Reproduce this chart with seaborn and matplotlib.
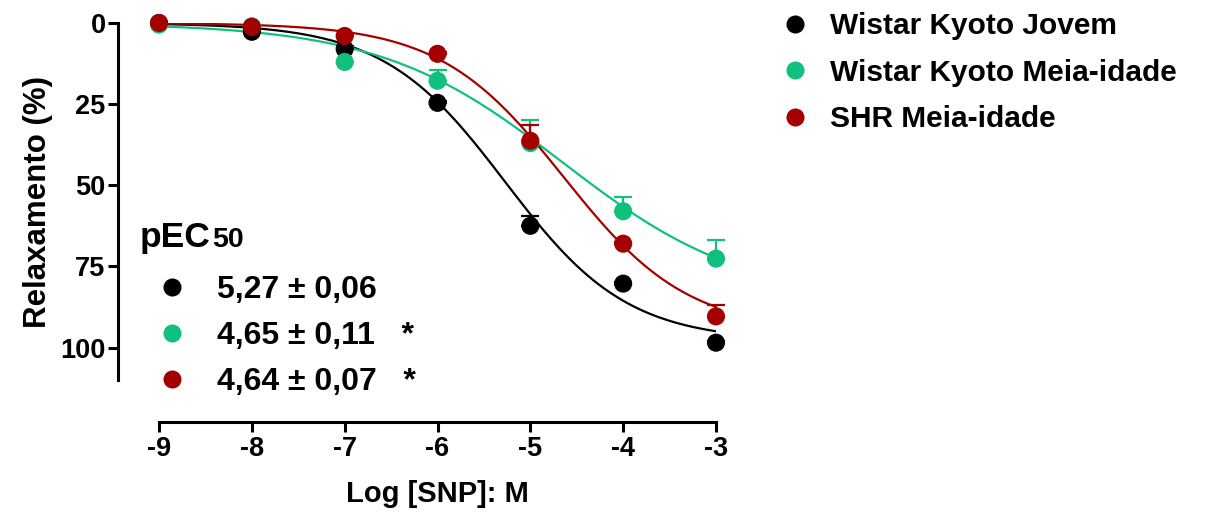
import numpy as np
import pandas as pd
import matplotlib.pyplot as plt
import seaborn as sns
from matplotlib.lines import Line2D

# concentrações (log M)
log_snp = [-9, -8, -7, -6, -5, -4, -3]

groups = ["Wistar Kyoto Jovem", "Wistar Kyoto Meia-idade", "SHR Meia-idade"]
colors = ["#000000", "#12C07E", "#A50000"]

# relaxamento médio (%)
wky_jovem = [0.0, 2.7, 8.0, 24.6, 62.5, 80.3, 98.5]
wky_meia = [0.5, 1.0, 12.0, 17.8, 37.0, 58.0, 72.6]
shr_meia = [0.0, 1.2, 4.0, 9.5, 36.3, 68.0, 90.4]

# erro padrão
sem_jovem = [0.3, 0.5, 1.0, 0.5, 3.0, 0.5, 0.5]
sem_wky_meia = [0.3, 0.5, 4.5, 3.3, 7.0, 4.3, 5.6]
sem_shr_meia = [0.3, 0.5, 0.5, 0.5, 5.0, 0.5, 3.4]

# ajuste sigmoidal: pEC50, Emax, inclinação de Hill
pec50 = [5.27, 4.65, 4.64]
pec50_sem = [0.06, 0.11, 0.07]
emax = [98.0, 86.0, 95.0]
hill = [0.66, 0.44, 0.65]
signif = ["", "*", "*"]

means = [wky_jovem, wky_meia, shr_meia]
sems = [sem_jovem, sem_wky_meia, sem_shr_meia]

sns.set_style("ticks")
plt.rcParams["font.family"] = ["Liberation Sans", "DejaVu Sans"]
plt.rcParams["font.weight"] = "bold"
for key in ["text.color", "axes.labelcolor", "xtick.color", "ytick.color", "axes.edgecolor"]:
    plt.rcParams[key] = "black"

points = pd.DataFrame({
    "x": np.tile(log_snp, 3),
    "y": np.concatenate(means),
    "group": np.repeat(groups, len(log_snp)),
})

xfit = np.linspace(log_snp[0], log_snp[-1], 200)
fits = pd.DataFrame({
    "x": np.tile(xfit, 3),
    "y": np.concatenate([e / (1 + 10 ** ((-p - xfit) * h)) for p, e, h in zip(pec50, emax, hill)]),
    "group": np.repeat(groups, len(xfit)),
})

palette = dict(zip(groups, colors))

fig = plt.figure(figsize=(12.25, 5.14), dpi=100)
ax = fig.add_axes([159 / 1225, 134 / 514, (716 - 159) / 1225, (380 - 23) / 514])

sns.lineplot(data=fits, x="x", y="y", hue="group", palette=palette, lw=1.6,
             legend=False, ax=ax)
for i in range(3):
    ax.errorbar(log_snp, means[i], yerr=[sems[i], np.zeros(len(log_snp))], fmt="none",
                ecolor=colors[i], elinewidth=1.6, capsize=6.5, capthick=1.6, clip_on=False)
sns.scatterplot(data=points, x="x", y="y", hue="group", palette=palette, s=170,
                linewidth=0, legend=False, ax=ax, clip_on=False, zorder=5)

ax.set_xlim(-9, -3)
ax.set_ylim(110, 0)
ax.set_xticks(log_snp)
ax.set_yticks([0, 25, 50, 75, 100])
ax.set_xticklabels([str(v) for v in log_snp])
sns.despine(ax=ax)
ax.spines["left"].set_position(("outward", 29.5))
ax.spines["bottom"].set_position(("outward", 30))
ax.spines["left"].set_linewidth(2.2)
ax.spines["bottom"].set_linewidth(2.2)
ax.tick_params(axis="both", width=2.2, length=7, labelsize=19.5)
ax.tick_params(axis="y", pad=2)
ax.tick_params(axis="x", pad=3)
ax.set_xlabel("Log [SNP]: M", fontsize=21, fontweight="bold", labelpad=13)
ax.set_ylabel("Relaxamento (%)", fontsize=22.5, fontweight="bold", labelpad=5)

# legenda dos grupos
handles = [Line2D([], [], ls="none", marker="o", ms=13, mfc=c, mec="none") for c in colors]
fig.legend(handles, groups, loc="upper left", bbox_to_anchor=(780 / 1225, 1 - 12 / 514),
           frameon=False, handlelength=1.0, handletextpad=0.67, labelspacing=0.62,
           borderpad=0, borderaxespad=0, prop={"weight": "bold", "size": 21.5})

# bloco pEC50: "50" logo depois de "pEC", menor e na mesma linha de base
t = fig.text(140 / 1225, 1 - 247 / 514, "pEC", fontsize=25.5, fontweight="bold", va="baseline")
bb = t.get_window_extent(renderer=fig.canvas.get_renderer())
fig.text(bb.x1 / 1225 + 1 / 1225, 1 - 247 / 514, "50", fontsize=20.5, fontweight="bold",
         va="baseline")
labels = [f"{p:.2f} ± {s:.2f}".replace(".", ",") + (f"   {a}" if a else "")
          for p, s, a in zip(pec50, pec50_sem, signif)]
fig.legend(handles, labels, loc="upper left", bbox_to_anchor=(156 / 1225, 1 - 275 / 514),
           frameon=False, handlelength=1.0, handletextpad=0.9, labelspacing=0.5,
           borderpad=0, borderaxespad=0, prop={"weight": "bold", "size": 23})

fig.savefig("out.png", dpi=100)
